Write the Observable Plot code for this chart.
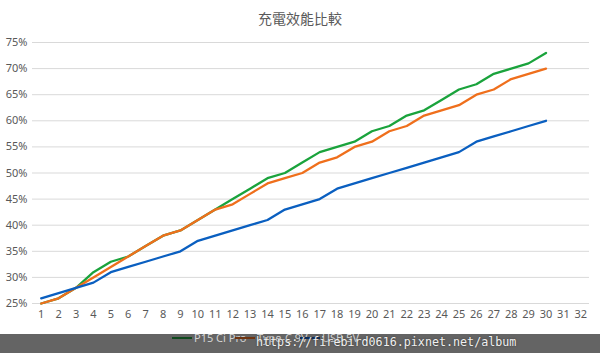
<!DOCTYPE html>
<html>
<head>
<meta charset="utf-8">
<script src="https://cdn.jsdelivr.net/npm/d3@7"></script>
<script src="https://cdn.jsdelivr.net/npm/@observablehq/plot@0.6"></script>
<style>
  html, body { margin: 0; padding: 0; background: #fff; }
  #wrap { position: relative; width: 600px; height: 353px; overflow: hidden; font-family: "Noto Sans", "Open Sans", sans-serif; }
  #title { height: 32px; line-height: 36px; text-align: center; font-family: "Noto Sans CJK TC", "Noto Sans CJK SC", sans-serif; font-size: 14px; color: #595959; }
  #band { position: absolute; left: 0; top: 334px; width: 600px; height: 19px; background: #646464; }
  #legend { position: absolute; top: 330px; left: 0; width: 600px; height: 16px; font-size: 11px; color: #d4d4d4; }
  .item { position: absolute; top: 0; height: 16px; line-height: 16px; white-space: nowrap; }
  .sw { display: inline-block; width: 20px; height: 2px; vertical-align: middle; margin-right: 2px; position: relative; top: -1px; }
  #wm { position: absolute; left: 256px; top: 335px; font-family: "DejaVu Sans Mono", monospace; font-size: 11.7px; color: #f0f0f0; text-shadow: 0 0 2px #333; white-space: nowrap; }
</style>
</head>
<body>
<div id="wrap">
  <div id="title">充電效能比較</div>
  <div id="chart"></div>
  <div id="band"></div>
  <div id="legend"></div>
  <div id="wm">https://firebird0616.pixnet.net/album</div>
</div>
<script>
const seriesNames = ["P15 Ci Pro", "Type-C 9V", "USB 5V"];
const seriesColors = ["#1aa33c", "#ef6f1c", "#0a5fc0"];
const legendColors = ["#0f4a1e", "#6e3410", "#0b2d5c"];
const points = [1,2,3,4,5,6,7,8,9,10,11,12,13,14,15,16,17,18,19,20,21,22,23,24,25,26,27,28,29,30];
const p15 = [25,26,28,31,33,34,36,38,39,41,43,45,47,49,50,52,54,55,56,58,59,61,62,64,66,67,69,70,71,73];
const typeC = [25,26,28,30,32,34,36,38,39,41,43,44,46,48,49,50,52,53,55,56,58,59,61,62,63,65,66,68,69,70];
const usb = [26,27,28,29,31,32,33,34,35,37,38,39,40,41,43,44,45,47,48,49,50,51,52,53,54,56,57,58,59,60];
const xTicks = [1,2,3,4,5,6,7,8,9,10,11,12,13,14,15,16,17,18,19,20,21,22,23,24,25,26,27,28,29,30,31,32];
const yTicks = [25,30,35,40,45,50,55,60,65,70,75];

const allSeries = [p15, typeC, usb];
const rows = [];
allSeries.forEach((vals, s) => vals.forEach((v, i) => rows.push({series: seriesNames[s], x: points[i], y: v})));

const chart = Plot.plot({
  width: 600,
  height: 300,
  marginTop: 10,
  marginBottom: 29,
  marginLeft: 32,
  marginRight: 11,
  style: {fontFamily: "'Noto Sans', 'Open Sans', sans-serif", fontSize: "11px", color: "#595959", background: "transparent"},
  x: {domain: [0.5, 32.5], label: null},
  y: {domain: [25, 75], label: null},
  marks: [
    Plot.gridY(yTicks, {stroke: "#d9d9d9", strokeOpacity: 1, strokeWidth: 1}),
    Plot.axisY(yTicks, {tickSize: 0, tickPadding: 5, tickFormat: d => d + "%", label: null}),
    Plot.axisX(xTicks, {tickSize: 0, tickPadding: 7, tickFormat: d => String(d), label: null}),
    ...seriesNames.map((name, s) =>
      Plot.line(rows.filter(r => r.series === name), {x: "x", y: "y", stroke: seriesColors[s], strokeWidth: 2.3, strokeLinejoin: "round", strokeLinecap: "round"})
    )
  ]
});
document.getElementById("chart").appendChild(chart);

const legend = document.getElementById("legend");
const lefts = [172, 235, 300];
seriesNames.forEach((name, s) => {
  const it = document.createElement("div");
  it.className = "item";
  it.style.left = lefts[s] + "px";
  it.innerHTML = `<span class="sw" style="background:${legendColors[s]}"></span>${name}`;
  legend.appendChild(it);
});
</script>
</body>
</html>
